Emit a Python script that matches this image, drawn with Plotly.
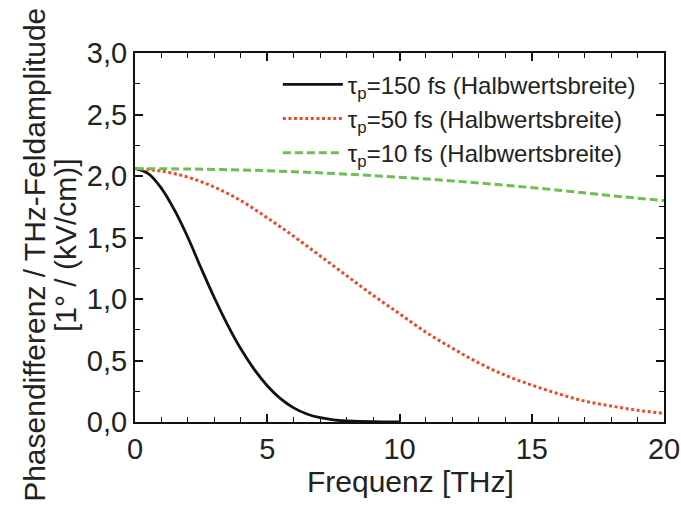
import plotly.graph_objects as go

# Frequency grid (THz) and spectral field amplitudes for three pulse durations
freq_150 = [0, 0.5, 1, 1.5, 2, 2.5, 3, 3.5, 4, 4.5, 5, 5.5, 6, 6.5, 7, 7.5, 8, 8.5, 9, 9.5, 10]
amp_150 = [2.06, 2.02, 1.90, 1.72, 1.50, 1.25, 1.01, 0.79, 0.595, 0.43, 0.295, 0.19,
           0.115, 0.065, 0.035, 0.018, 0.009, 0.004, 0.002, 0.001, 0.0]

freq_50 = [0, 1, 2, 3, 4, 5, 6, 7, 8, 9, 10, 11, 12, 13, 14, 15, 16, 17, 18, 19, 20]
amp_50 = [2.06, 2.04, 1.99, 1.91, 1.80, 1.66, 1.51, 1.35, 1.19, 1.03, 0.88, 0.73,
          0.60, 0.48, 0.38, 0.30, 0.23, 0.17, 0.13, 0.095, 0.07]

freq_10 = [0, 2, 4, 6, 8, 10, 12, 14, 16, 18, 20]
amp_10 = [2.06, 2.057, 2.049, 2.035, 2.015, 1.99, 1.96, 1.925, 1.885, 1.84, 1.80]

labels = ["τ<sub>p</sub>=150 fs (Halbwertsbreite)",
          "τ<sub>p</sub>=50 fs (Halbwertsbreite)",
          "τ<sub>p</sub>=10 fs (Halbwertsbreite)"]

x_title = "Frequenz [THz]"
y_title_1 = "Phasendifferenz / THz-Feldamplitude"
y_title_2 = "[1° / (kV/cm)]"

FONT = "Liberation Sans, Arial, sans-serif"
TEXT_COLOR = "#222222"

fig = go.Figure()
fig.add_trace(go.Scatter(x=freq_150, y=amp_150, mode="lines", name=labels[0],
                         line=dict(color="#111111", width=2.8, shape="spline", smoothing=1)))
fig.add_trace(go.Scatter(x=freq_50, y=amp_50, mode="lines", name=labels[1],
                         line=dict(color="#ec4a2c", width=3, dash="3px,2.6px",
                                   shape="spline", smoothing=1)))
fig.add_trace(go.Scatter(x=freq_10, y=amp_10, mode="lines", name=labels[2],
                         line=dict(color="#6cbf50", width=3, dash="8px,4px",
                                   shape="spline", smoothing=1)))

axis_common = dict(
    showline=True, linecolor="#111111", linewidth=2, mirror="allticks",
    ticks="inside", ticklen=8, tickwidth=1.6, tickcolor="#111111",
    showgrid=False, zeroline=False, automargin=False,
    tickfont=dict(family=FONT, size=29, color=TEXT_COLOR),
)

fig.update_xaxes(range=[0, 20], dtick=5, tick0=0,
                 minor=dict(dtick=1, ticks="inside", ticklen=5, tickwidth=1.4, tickcolor="#111111"),
                 **axis_common)
fig.update_yaxes(range=[0, 3], dtick=0.5, tick0=0, tickformat=".1f",
                 minor=dict(dtick=0.25, ticks="inside", ticklen=5, tickwidth=1.4, tickcolor="#111111"),
                 **axis_common)

# Axis titles
fig.add_annotation(text=x_title, xref="paper", yref="paper", x=0.52, y=-0.16,
                   xanchor="center", yanchor="middle", showarrow=False,
                   font=dict(family=FONT, size=30, color=TEXT_COLOR))
fig.add_annotation(text=y_title_1, xref="paper", yref="paper", x=-0.189, y=0.453,
                   xanchor="center", yanchor="middle", textangle=-90, showarrow=False,
                   font=dict(family=FONT, size=30, color=TEXT_COLOR))
fig.add_annotation(text=y_title_2, xref="paper", yref="paper", x=-0.13, y=0.48,
                   xanchor="center", yanchor="middle", textangle=-90, showarrow=False,
                   font=dict(family=FONT, size=30, color=TEXT_COLOR))

fig.update_layout(
    width=681, height=512,
    margin=dict(l=135, r=17, t=53, b=90),
    paper_bgcolor="white", plot_bgcolor="white",
    separators=",.",
    showlegend=True,
    legend=dict(x=0.27, y=0.975, xanchor="left", yanchor="top",
                bgcolor="rgba(0,0,0,0)", borderwidth=0,
                itemwidth=60, tracegroupgap=0,
                font=dict(family=FONT, size=24, color=TEXT_COLOR)),
)

fig.write_html("out.html")
